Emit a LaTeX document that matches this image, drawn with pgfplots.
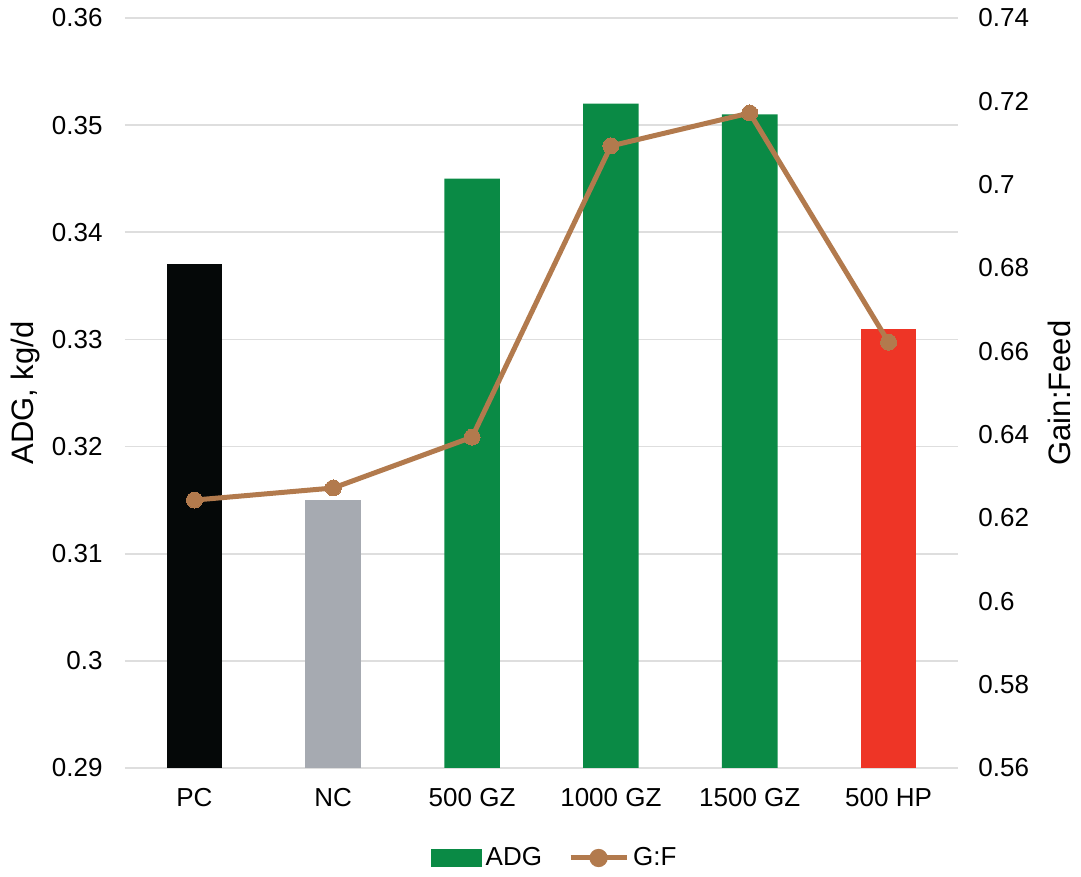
\documentclass[border=0pt]{standalone}
\usepackage{pgfplots}
\pgfplotsset{compat=1.18}
\usepackage{fontspec}
\setmainfont{Liberation Sans}
\definecolor{cBlack}{HTML}{050808}
\definecolor{cGray}{HTML}{A6AAB1}
\definecolor{cGreen}{HTML}{0A8A45}
\definecolor{cRed}{HTML}{EE3526}
\definecolor{cBrown}{HTML}{B27A4D}
\definecolor{cGrid}{HTML}{DEDEDE}
\begin{document}
\begin{tikzpicture}
\path[use as bounding box] (-62.5pt,-54.5pt) rectangle (478pt,384pt);
\pgfplotsset{
  common/.style={
    at={(0pt,0pt)}, anchor=south west,
    scale only axis, width=416.5pt, height=375pt,
    xmin=-0.5, xmax=5.5,
    major tick length=0pt,
    axis line style={draw=none},
    /pgf/number format/assume math mode=true,
    tick label style={font=\fontsize{13}{15}\selectfont, text=black},
  }
}
\begin{axis}[common,
  ymin=0.29, ymax=0.36, ytick distance=0.01,
  ymajorgrids, grid style={cGrid, line width=0.8pt},
  xtick={0,1,2,3,4,5},
  xticklabels={PC,NC,500 GZ,1000 GZ,1500 GZ,500 HP},
  xticklabel style={inner sep=0pt, anchor=north, yshift=-10pt},
  yticklabel style={inner sep=0pt, anchor=east, xshift=-11pt},
  ylabel={ADG, kg/d},
  every axis y label/.style={at={(axis description cs:-0.12,0.5)}, rotate=90, anchor=center, font=\fontsize{15.5}{18}\selectfont},
  /pgf/number format/.cd, fixed, precision=2,
]
\addplot[ybar, bar width=0.4, bar shift=0pt, fill=cBlack, draw=none] coordinates {(0,0.337)};
\addplot[ybar, bar width=0.4, bar shift=0pt, fill=cGray, draw=none] coordinates {(1,0.315)};
\addplot[ybar, bar width=0.4, bar shift=0pt, fill=cGreen, draw=none] coordinates {(2,0.345) (3,0.352) (4,0.351)};
\addplot[ybar, bar width=0.4, bar shift=0pt, fill=cRed, draw=none] coordinates {(5,0.331)};
\end{axis}
\begin{axis}[common,
  ymin=0.56, ymax=0.74, ytick distance=0.02,
  axis y line*=right, axis x line=none,
  yticklabel style={inner sep=0pt, anchor=west, xshift=10pt},
  ylabel={Gain:Feed},
  every axis y label/.style={at={(axis description cs:1.1215,0.5)}, rotate=90, anchor=center, font=\fontsize{15.5}{18}\selectfont},
  legend style={at={(0.517,-0.12)}, anchor=center, draw=none, fill=none,
    legend columns=2, font=\fontsize{13}{15}\selectfont,
    /tikz/every even column/.append style={column sep=11pt}},
  legend cell align=left,
  /pgf/number format/.cd, fixed, precision=2,
]
\addlegendimage{legend image code/.code={\fill[cGreen] (0pt,-4.25pt) rectangle (25pt,4.25pt);}}
\addlegendentry{ADG}
\addplot[cBrown, line width=2.5pt, mark=*, mark size=4pt, mark options={fill=cBrown, draw=cBrown, line width=0pt},
  legend image code/.code={\draw[cBrown, line width=2.5pt] (0pt,0pt) -- (28pt,0pt); \fill[cBrown] (14pt,0pt) circle (3.3pt);}]
  coordinates {(0,0.6243) (1,0.6272) (2,0.6394) (3,0.7093) (4,0.7172) (5,0.6622)};
\addlegendentry{G:F}
\end{axis}
\end{tikzpicture}
\end{document}
